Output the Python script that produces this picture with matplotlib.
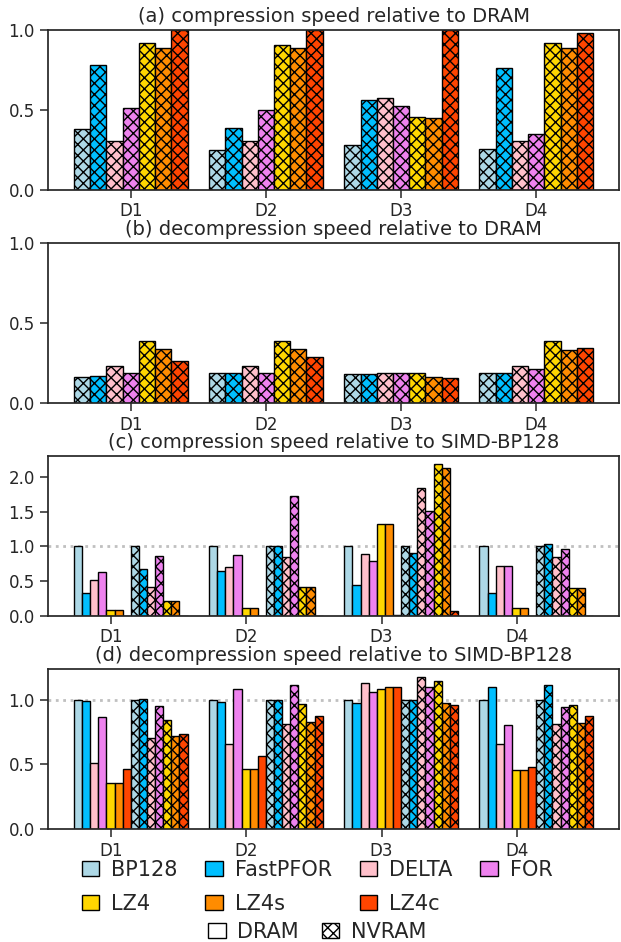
import matplotlib
matplotlib.use("Agg")
import matplotlib.pyplot as plt
from matplotlib.patches import Patch
import numpy as np

# esquemas y datasets
schemes = ["BP128", "FastPFOR", "DELTA", "FOR", "LZ4", "LZ4s", "LZ4c"]
colors = ["lightblue", "deepskyblue", "pink", "violet", "gold", "darkorange", "orangered"]
datasets = ["D1", "D2", "D3", "D4"]

# (a) compresion NVRAM relativa a DRAM, una fila por dataset
comp_rel_dram = [
    [0.38, 0.78, 0.305, 0.515, 0.92, 0.89, 1.0],
    [0.25, 0.39, 0.305, 0.50, 0.905, 0.885, 1.0],
    [0.28, 0.56, 0.575, 0.525, 0.455, 0.45, 1.0],
    [0.255, 0.765, 0.305, 0.35, 0.92, 0.885, 0.98],
]

# (b) descompresion NVRAM relativa a DRAM
decomp_rel_dram = [
    [0.165, 0.17, 0.23, 0.185, 0.39, 0.34, 0.265],
    [0.185, 0.19, 0.23, 0.19, 0.39, 0.335, 0.288],
    [0.18, 0.18, 0.185, 0.185, 0.188, 0.16, 0.155],
    [0.186, 0.186, 0.23, 0.215, 0.39, 0.334, 0.342],
]

# (c) compresion relativa a SIMD-BP128
comp_simd_dram = [
    [1.0, 0.325, 0.512, 0.627, 0.086, 0.086, 0.004],
    [1.0, 0.646, 0.703, 0.871, 0.115, 0.115, 0.004],
    [1.0, 0.445, 0.885, 0.79, 1.325, 1.316, 0.01],
    [1.0, 0.335, 0.713, 0.713, 0.11, 0.11, 0.004],
]
comp_simd_nvram = [
    [1.0, 0.67, 0.416, 0.856, 0.21, 0.21, 0.004],
    [1.0, 1.0, 0.852, 1.718, 0.411, 0.411, 0.004],
    [1.0, 0.90, 1.833, 1.507, 2.19, 2.134, 0.067],
    [1.0, 1.033, 0.847, 0.962, 0.407, 0.397, 0.004],
]

# (d) descompresion relativa a SIMD-BP128
decomp_simd_dram = [
    [1.0, 0.987, 0.51, 0.863, 0.358, 0.358, 0.466],
    [1.0, 0.982, 0.66, 1.085, 0.461, 0.461, 0.567],
    [1.0, 0.977, 1.129, 1.062, 1.085, 1.098, 1.10],
    [1.0, 1.10, 0.66, 0.807, 0.454, 0.456, 0.479],
]
decomp_simd_nvram = [
    [1.0, 1.008, 0.701, 0.954, 0.84, 0.719, 0.737],
    [1.0, 0.997, 0.814, 1.111, 0.964, 0.83, 0.871],
    [1.0, 1.0, 1.178, 1.098, 1.147, 0.977, 0.959],
    [1.0, 1.111, 0.814, 0.941, 0.961, 0.817, 0.876],
]

TEXT = "#262626"
plt.rcParams["font.family"] = ["DejaVu Sans"]
plt.rcParams["text.color"] = TEXT
plt.rcParams["axes.edgecolor"] = TEXT
plt.rcParams["axes.labelcolor"] = TEXT
plt.rcParams["xtick.color"] = TEXT
plt.rcParams["ytick.color"] = TEXT
plt.rcParams["hatch.linewidth"] = 1.0
plt.rcParams["axes.linewidth"] = 1.25

HATCH = "xxx"
x = np.arange(len(datasets))


def style_axes(ax, title, tick_offset):
    ax.set_title(title, fontsize=14, color=TEXT)
    ax.set_xticks(x + tick_offset)
    ax.set_xticklabels(datasets)
    ax.tick_params(axis="x", labelsize=12, length=5.5, width=1.1, pad=3.5)
    ax.tick_params(axis="y", labelsize=12, length=5.5, width=1.1, pad=4)


def nvram_panel(ax, values, title):
    w = 0.12
    vals = np.array(values)
    for k in range(len(schemes)):
        ax.bar(x + k * w, vals[:, k], w, align="edge", color=colors[k],
               edgecolor="black", linewidth=1.0, hatch=HATCH)
    ax.set_ylim(0, 1.0)
    ax.set_yticks([0.0, 0.5, 1.0])
    style_axes(ax, title, 0.42)


def simd_panel(ax, dram, nvram, title):
    w = 0.06
    d = np.array(dram)
    n = np.array(nvram)
    for k in range(len(schemes)):
        ax.bar(x + k * w, d[:, k], w, align="edge", color=colors[k],
               edgecolor="black", linewidth=1.0)
    for k in range(len(schemes)):
        ax.bar(x + (k + 7) * w, n[:, k], w, align="edge", color=colors[k],
               edgecolor="black", linewidth=1.0, hatch=HATCH)
    ax.axhline(1.0, color="#c0c0c0", linestyle=":", linewidth=2, zorder=0)
    style_axes(ax, title, 0.276)


fig = plt.figure(figsize=(6.21, 9.42), dpi=100)
left, width, height = 48 / 621, 571 / 621, 160 / 942
ax_a = fig.add_axes([left, 1 - 190 / 942, width, height])
ax_b = fig.add_axes([left, 1 - 403 / 942, width, height])
ax_c = fig.add_axes([left, 1 - 616 / 942, width, height])
ax_d = fig.add_axes([left, 1 - 829 / 942, width, height])

nvram_panel(ax_a, comp_rel_dram, "(a) compression speed relative to DRAM")
nvram_panel(ax_b, decomp_rel_dram, "(b) decompression speed relative to DRAM")
simd_panel(ax_c, comp_simd_dram, comp_simd_nvram,
           "(c) compression speed relative to SIMD-BP128")
ax_c.set_yticks([0.0, 0.5, 1.0, 1.5, 2.0])
simd_panel(ax_d, decomp_simd_dram, decomp_simd_nvram,
           "(d) decompression speed relative to SIMD-BP128")
ax_d.set_yticks([0.0, 0.5, 1.0])

# leyenda: orden por columnas para que queden 4 por fila
handles = [Patch(facecolor=c, edgecolor="black", label=s) for s, c in zip(schemes, colors)]
order = [0, 4, 1, 5, 2, 6, 3]
fig.legend([handles[i] for i in order], [schemes[i] for i in order],
           ncol=4, loc="upper center", bbox_to_anchor=(317 / 621, 1 - 860 / 942),
           frameon=False, fontsize=15, handlelength=0.85, handleheight=0.7,
           handletextpad=0.55, columnspacing=1.35, labelspacing=0.65,
           borderpad=0, borderaxespad=0)
mem_handles = [Patch(facecolor="white", edgecolor="black", label="DRAM"),
               Patch(facecolor="white", edgecolor="black", hatch=HATCH, label="NVRAM")]
fig.legend(handles=mem_handles, ncol=2, loc="upper center",
           bbox_to_anchor=(317 / 621, 1 - 922 / 942), frameon=False, fontsize=15,
           handlelength=0.85, handleheight=0.7, handletextpad=0.55,
           columnspacing=1.1, borderpad=0, borderaxespad=0)

fig.savefig("out.png", dpi=100)
